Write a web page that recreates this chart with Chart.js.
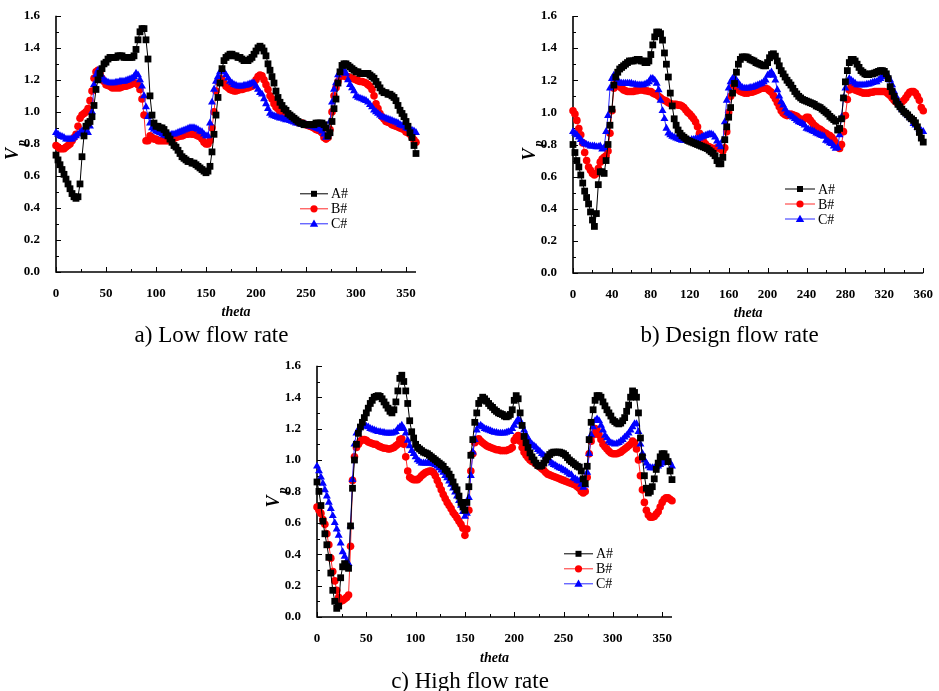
<!DOCTYPE html>
<html>
<head>
<meta charset="utf-8">
<script src="https://cdn.jsdelivr.net/npm/chart.js@4.4.1/dist/chart.umd.min.js"></script>
<style>
  html, body { margin: 0; padding: 0; background: #fff; }
  body { width: 939px; height: 691px; position: relative; overflow: hidden;
         font-family: 'Liberation Serif', 'Times New Roman', serif; }
  canvas { position: absolute; }
  .cap { position: absolute; font-size: 23px; color: #000; white-space: nowrap;
         transform: translate(-50%, -50%); line-height: 1; }
</style>
</head>
<body>
<canvas id="chartLow"></canvas>
<canvas id="chartDesign"></canvas>
<canvas id="chartHigh"></canvas>
<div class="cap" style="left:211.5px; top:334px;">a) Low flow rate</div>
<div class="cap" style="left:729.5px; top:334px;">b) Design flow rate</div>
<div class="cap" style="left:470px; top:680px;">c) High flow rate</div>
<script>
// Impeller angle (degrees), shared by every series
const theta = [
  0,2,4,6,8,10,12,14,16,18,
  20,22,24,26,28,30,32,34,36,38,
  40,42,44,46,48,50,52,54,56,58,
  60,62,64,66,68,70,72,74,76,78,
  80,82,84,86,88,90,92,94,96,98,
  100,102,104,106,108,110,112,114,116,118,
  120,122,124,126,128,130,132,134,136,138,
  140,142,144,146,148,150,152,154,156,158,
  160,162,164,166,168,170,172,174,176,178,
  180,182,184,186,188,190,192,194,196,198,
  200,202,204,206,208,210,212,214,216,218,
  220,222,224,226,228,230,232,234,236,238,
  240,242,244,246,248,250,252,254,256,258,
  260,262,264,266,268,270,272,274,276,278,
  280,282,284,286,288,290,292,294,296,298,
  300,302,304,306,308,310,312,314,316,318,
  320,322,324,326,328,330,332,334,336,338,
  340,342,344,346,348,350,352,354,356,358,
  360
];

const seriesNames = ['A#', 'B#', 'C#'];
const yTicks = [0.0, 0.2, 0.4, 0.6, 0.8, 1.0, 1.2, 1.4, 1.6];

// ---- Low flow rate ----
const lowA = [
  0.73,0.70,0.67,0.64,0.61,0.58,0.55,0.52,0.49,0.47,
  0.46,0.47,0.55,0.72,0.85,0.91,0.93,0.94,0.97,1.04,
  1.14,1.20,1.24,1.27,1.30,1.31,1.33,1.34,1.34,1.34,
  1.34,1.35,1.35,1.35,1.34,1.34,1.34,1.34,1.34,1.35,
  1.39,1.45,1.50,1.52,1.52,1.45,1.33,1.10,0.98,0.93,
  0.91,0.91,0.90,0.90,0.89,0.87,0.85,0.83,0.81,0.79,
  0.78,0.76,0.74,0.72,0.71,0.70,0.69,0.69,0.68,0.68,
  0.67,0.66,0.65,0.64,0.63,0.62,0.63,0.66,0.75,0.86,
  0.98,1.09,1.18,1.27,1.32,1.34,1.35,1.36,1.36,1.35,
  1.35,1.34,1.34,1.33,1.32,1.32,1.32,1.33,1.34,1.36,
  1.38,1.40,1.41,1.40,1.38,1.35,1.30,1.26,1.22,1.18,
  1.13,1.09,1.06,1.04,1.02,1.01,0.99,0.98,0.97,0.96,
  0.95,0.94,0.93,0.93,0.92,0.92,0.92,0.92,0.92,0.92,
  0.93,0.93,0.93,0.93,0.92,0.90,0.85,0.87,0.94,1.02,
  1.08,1.18,1.25,1.29,1.30,1.30,1.29,1.28,1.27,1.26,
  1.25,1.25,1.24,1.24,1.24,1.24,1.24,1.23,1.22,1.21,
  1.19,1.17,1.15,1.13,1.12,1.12,1.11,1.11,1.10,1.09,
  1.07,1.04,1.01,0.99,0.97,0.94,0.91,0.87,0.84,0.79,
  0.74
];
const lowB = [
  0.79,0.78,0.77,0.77,0.77,0.78,0.79,0.80,0.82,0.84,
  0.86,0.91,0.96,0.98,0.99,1.00,1.02,1.07,1.13,1.21,
  1.25,1.26,1.24,1.21,1.19,1.17,1.165,1.16,1.15,1.15,
  1.15,1.15,1.15,1.155,1.16,1.16,1.165,1.17,1.175,1.18,
  1.18,1.17,1.14,1.08,0.98,0.82,0.82,0.85,0.84,0.83,
  0.83,0.82,0.82,0.82,0.82,0.82,0.82,0.83,0.83,0.835,
  0.84,0.845,0.85,0.85,0.855,0.86,0.86,0.865,0.86,0.86,
  0.855,0.85,0.845,0.83,0.81,0.80,0.80,0.82,0.90,1.00,
  1.13,1.19,1.21,1.20,1.18,1.16,1.15,1.14,1.135,1.13,
  1.13,1.135,1.14,1.14,1.145,1.15,1.15,1.155,1.16,1.17,
  1.20,1.22,1.23,1.225,1.20,1.17,1.14,1.10,1.08,1.05,
  1.03,1.02,1.00,0.99,0.98,0.97,0.965,0.96,0.95,0.945,
  0.94,0.935,0.93,0.93,0.925,0.92,0.915,0.91,0.905,0.90,
  0.89,0.885,0.88,0.87,0.84,0.83,0.84,0.89,1.00,1.10,
  1.15,1.19,1.22,1.23,1.225,1.22,1.22,1.215,1.21,1.205,
  1.20,1.195,1.19,1.19,1.185,1.18,1.17,1.16,1.14,1.10,
  1.05,1.02,0.99,0.97,0.955,0.94,0.935,0.93,0.92,0.915,
  0.91,0.905,0.90,0.895,0.89,0.875,0.87,0.86,0.84,0.825,
  0.81
];
const lowC = [
  0.87,0.86,0.85,0.845,0.84,0.83,0.83,0.83,0.83,0.84,
  0.85,0.86,0.87,0.88,0.89,0.87,0.87,0.91,1.00,1.17,
  1.23,1.26,1.24,1.22,1.20,1.19,1.185,1.18,1.18,1.18,
  1.185,1.185,1.19,1.19,1.19,1.195,1.20,1.205,1.21,1.22,
  1.24,1.23,1.20,1.16,1.10,1.03,0.97,0.93,0.90,0.89,
  0.88,0.875,0.87,0.86,0.855,0.85,0.85,0.855,0.86,0.86,
  0.865,0.87,0.875,0.88,0.885,0.89,0.895,0.90,0.90,0.90,
  0.895,0.89,0.88,0.875,0.86,0.85,0.85,0.93,1.06,1.14,
  1.19,1.22,1.25,1.26,1.25,1.23,1.21,1.19,1.18,1.17,
  1.165,1.16,1.16,1.16,1.165,1.165,1.17,1.175,1.18,1.18,
  1.16,1.14,1.12,1.11,1.08,1.05,1.02,0.99,0.98,0.975,
  0.97,0.965,0.96,0.96,0.955,0.95,0.95,0.945,0.94,0.935,
  0.93,0.93,0.925,0.92,0.92,0.92,0.915,0.91,0.91,0.905,
  0.90,0.895,0.89,0.88,0.86,0.84,0.86,0.94,1.06,1.14,
  1.18,1.23,1.25,1.27,1.26,1.24,1.20,1.17,1.15,1.13,
  1.10,1.09,1.085,1.08,1.075,1.07,1.06,1.045,1.03,1.01,
  1.00,0.99,0.98,0.97,0.965,0.96,0.955,0.95,0.945,0.94,
  0.935,0.93,0.92,0.915,0.91,0.90,0.895,0.89,0.885,0.88,
  0.87
];

// ---- Design flow rate ----
const designA = [
  0.80,0.75,0.70,0.66,0.61,0.56,0.51,0.47,0.43,0.38,
  0.33,0.29,0.37,0.55,0.63,0.63,0.62,0.70,0.80,0.92,
  1.02,1.17,1.22,1.25,1.27,1.28,1.29,1.30,1.31,1.32,
  1.32,1.32,1.325,1.33,1.33,1.32,1.32,1.31,1.31,1.32,
  1.36,1.42,1.47,1.50,1.50,1.49,1.45,1.37,1.30,1.22,
  1.12,1.04,0.96,0.92,0.89,0.87,0.855,0.845,0.835,0.825,
  0.82,0.815,0.81,0.805,0.80,0.795,0.79,0.785,0.78,0.775,
  0.765,0.755,0.745,0.73,0.70,0.68,0.68,0.72,0.83,0.91,
  0.97,1.03,1.12,1.18,1.25,1.30,1.33,1.345,1.345,1.345,
  1.34,1.33,1.325,1.32,1.31,1.305,1.30,1.295,1.29,1.29,
  1.31,1.34,1.36,1.365,1.35,1.32,1.29,1.26,1.24,1.22,
  1.20,1.185,1.17,1.15,1.13,1.115,1.10,1.09,1.08,1.075,
  1.07,1.065,1.06,1.055,1.05,1.04,1.035,1.03,1.02,1.01,
  1.00,0.99,0.975,0.965,0.955,0.945,0.89,0.90,0.96,1.09,
  1.19,1.26,1.31,1.33,1.33,1.32,1.30,1.28,1.26,1.25,
  1.24,1.235,1.235,1.24,1.24,1.245,1.25,1.255,1.26,1.26,
  1.255,1.24,1.21,1.16,1.13,1.10,1.07,1.05,1.035,1.02,
  1.005,0.995,0.985,0.97,0.96,0.95,0.935,0.91,0.875,0.84,
  0.815
];
const designB = [
  1.01,0.99,0.95,0.90,0.86,0.81,0.75,0.70,0.66,0.64,
  0.62,0.61,0.62,0.65,0.69,0.71,0.72,0.73,0.76,0.87,
  1.01,1.15,1.18,1.17,1.16,1.15,1.14,1.135,1.13,1.13,
  1.13,1.13,1.135,1.135,1.14,1.14,1.14,1.135,1.135,1.13,
  1.13,1.12,1.115,1.11,1.10,1.09,1.08,1.075,1.07,1.06,
  1.055,1.05,1.05,1.05,1.045,1.045,1.04,1.03,1.015,1.00,
  0.99,0.975,0.96,0.94,0.91,0.87,0.84,0.82,0.805,0.79,
  0.785,0.78,0.775,0.775,0.78,0.785,0.77,0.76,0.78,0.88,
  1.00,1.10,1.17,1.17,1.15,1.14,1.13,1.125,1.12,1.12,
  1.12,1.125,1.125,1.13,1.135,1.14,1.145,1.15,1.15,1.15,
  1.145,1.135,1.125,1.105,1.085,1.06,1.035,1.01,0.995,0.985,
  0.98,0.985,0.99,0.985,0.98,0.975,0.965,0.955,0.95,0.96,
  0.97,0.97,0.95,0.935,0.92,0.91,0.90,0.895,0.885,0.875,
  0.87,0.86,0.855,0.845,0.83,0.81,0.785,0.775,0.80,0.88,
  0.98,1.08,1.14,1.16,1.15,1.14,1.135,1.13,1.125,1.12,
  1.12,1.12,1.12,1.125,1.125,1.13,1.13,1.13,1.13,1.13,
  1.13,1.125,1.115,1.105,1.09,1.075,1.065,1.055,1.055,1.065,
  1.075,1.09,1.11,1.125,1.13,1.13,1.12,1.10,1.075,1.03,
  1.01
];
const designC = [
  0.88,0.87,0.86,0.845,0.83,0.815,0.805,0.80,0.795,0.79,
  0.79,0.79,0.785,0.785,0.79,0.77,0.78,0.88,0.98,1.15,
  1.21,1.23,1.21,1.19,1.185,1.18,1.18,1.18,1.18,1.18,
  1.18,1.175,1.175,1.17,1.17,1.17,1.17,1.175,1.18,1.19,
  1.21,1.21,1.20,1.18,1.14,1.075,1.01,0.96,0.90,0.87,
  0.86,0.85,0.845,0.84,0.835,0.83,0.825,0.825,0.825,0.825,
  0.825,0.83,0.83,0.835,0.835,0.84,0.845,0.85,0.855,0.86,
  0.865,0.865,0.86,0.845,0.82,0.80,0.785,0.825,0.94,1.075,
  1.15,1.19,1.21,1.21,1.20,1.18,1.165,1.155,1.15,1.15,
  1.15,1.155,1.155,1.16,1.165,1.17,1.175,1.18,1.19,1.20,
  1.23,1.24,1.25,1.23,1.20,1.14,1.10,1.065,1.045,1.02,
  1.00,0.99,0.98,0.97,0.96,0.95,0.94,0.935,0.93,0.92,
  0.90,0.895,0.89,0.885,0.88,0.87,0.865,0.86,0.855,0.85,
  0.825,0.82,0.81,0.805,0.79,0.775,0.78,0.86,0.97,1.09,
  1.15,1.19,1.21,1.20,1.19,1.18,1.17,1.17,1.17,1.17,
  1.17,1.175,1.175,1.18,1.185,1.19,1.19,1.20,1.21,1.22,
  1.225,1.23,1.225,1.20,1.17,1.13,1.10,1.07,1.045,1.02,
  1.01,0.995,0.98,0.97,0.955,0.93,0.92,0.905,0.895,0.885,
  0.88
];

// ---- High flow rate ----
const highA = [
  0.86,0.80,0.71,0.61,0.53,0.46,0.38,0.28,0.17,0.10,
  0.055,0.07,0.25,0.32,0.34,0.32,0.31,0.58,0.82,1.00,
  1.10,1.17,1.21,1.24,1.27,1.30,1.33,1.36,1.38,1.40,
  1.405,1.41,1.405,1.39,1.37,1.35,1.33,1.31,1.30,1.32,
  1.37,1.44,1.52,1.54,1.50,1.44,1.36,1.25,1.18,1.14,
  1.10,1.08,1.07,1.06,1.05,1.045,1.04,1.03,1.02,1.01,
  1.00,0.99,0.98,0.97,0.96,0.94,0.93,0.91,0.89,0.86,
  0.83,0.81,0.77,0.73,0.70,0.68,0.73,0.83,1.03,1.13,
  1.24,1.30,1.36,1.38,1.40,1.39,1.375,1.36,1.345,1.335,
  1.32,1.31,1.30,1.295,1.29,1.28,1.275,1.28,1.29,1.32,
  1.38,1.41,1.39,1.30,1.22,1.15,1.11,1.08,1.045,1.02,
  1.00,0.98,0.965,0.96,0.965,0.98,1.00,1.02,1.035,1.045,
  1.05,1.05,1.05,1.05,1.045,1.04,1.03,1.015,1.00,0.99,
  0.98,0.97,0.96,0.955,0.93,0.88,0.85,0.96,1.13,1.24,
  1.32,1.38,1.41,1.41,1.40,1.37,1.345,1.32,1.30,1.28,
  1.255,1.245,1.235,1.23,1.235,1.25,1.27,1.31,1.35,1.40,
  1.44,1.43,1.40,1.30,1.14,1.02,0.90,0.82,0.79,0.80,
  0.83,0.88,0.94,0.98,1.02,1.04,1.04,1.02,0.99,0.93,
  0.875
];
const highB = [
  0.70,0.68,0.66,0.62,0.59,0.53,0.46,0.375,0.29,0.23,
  0.17,0.125,0.10,0.105,0.115,0.125,0.14,0.45,0.87,1.02,
  1.08,1.10,1.12,1.13,1.13,1.125,1.115,1.11,1.105,1.10,
  1.10,1.09,1.085,1.08,1.075,1.075,1.07,1.07,1.075,1.08,
  1.09,1.10,1.13,1.135,1.10,1.02,0.93,0.89,0.88,0.875,
  0.875,0.875,0.885,0.90,0.91,0.92,0.925,0.93,0.93,0.92,
  0.90,0.87,0.84,0.81,0.78,0.755,0.73,0.71,0.69,0.665,
  0.65,0.63,0.61,0.59,0.565,0.52,0.56,0.68,0.93,1.04,
  1.11,1.13,1.135,1.12,1.11,1.10,1.09,1.085,1.08,1.075,
  1.07,1.065,1.065,1.06,1.06,1.06,1.06,1.065,1.07,1.08,
  1.125,1.145,1.156,1.12,1.08,1.05,1.03,1.015,1.00,0.99,
  0.985,0.975,0.965,0.955,0.945,0.935,0.92,0.91,0.905,0.90,
  0.895,0.89,0.885,0.88,0.875,0.87,0.865,0.86,0.855,0.85,
  0.845,0.84,0.83,0.82,0.80,0.79,0.80,0.89,1.04,1.12,
  1.16,1.20,1.19,1.16,1.13,1.10,1.085,1.07,1.055,1.045,
  1.04,1.04,1.04,1.045,1.05,1.06,1.07,1.08,1.09,1.10,
  1.12,1.11,1.07,1.00,0.90,0.81,0.73,0.68,0.65,0.635,
  0.635,0.64,0.655,0.67,0.70,0.73,0.75,0.76,0.76,0.75,
  0.74
];
const highC = [
  0.96,0.93,0.89,0.85,0.81,0.77,0.73,0.69,0.645,0.60,
  0.56,0.52,0.47,0.415,0.385,0.355,0.34,0.58,0.875,1.10,
  1.17,1.195,1.21,1.215,1.22,1.215,1.21,1.20,1.195,1.19,
  1.185,1.18,1.18,1.175,1.175,1.17,1.17,1.17,1.17,1.175,
  1.18,1.20,1.21,1.22,1.20,1.17,1.125,1.09,1.06,1.04,
  1.02,1.00,0.99,0.98,0.98,0.98,0.98,0.98,0.98,0.975,
  0.97,0.96,0.95,0.935,0.92,0.90,0.885,0.865,0.845,0.82,
  0.795,0.77,0.74,0.71,0.67,0.64,0.66,0.76,0.90,1.05,
  1.13,1.19,1.215,1.22,1.21,1.20,1.195,1.19,1.185,1.18,
  1.175,1.175,1.17,1.17,1.17,1.17,1.175,1.18,1.18,1.20,
  1.22,1.24,1.26,1.25,1.22,1.19,1.16,1.135,1.115,1.10,
  1.09,1.08,1.065,1.055,1.04,1.03,1.02,1.005,0.995,0.98,
  0.97,0.965,0.955,0.95,0.945,0.935,0.93,0.92,0.91,0.905,
  0.885,0.88,0.87,0.865,0.845,0.825,0.84,0.92,1.04,1.16,
  1.21,1.25,1.26,1.25,1.22,1.19,1.156,1.14,1.12,1.11,
  1.105,1.10,1.105,1.11,1.12,1.13,1.145,1.156,1.17,1.19,
  1.21,1.23,1.23,1.18,1.10,1.04,1.00,0.98,0.96,0.95,
  0.95,0.95,0.955,0.96,0.97,0.98,0.985,0.99,0.99,0.985,
  0.96
];

// Marker / line styling for A#, B#, C#
const styles = [
  { color: '#000000', line: '#000000', point: 'rect',     radius: 4.8, order: 0 },
  { color: '#ff0000', line: '#ff2a2a', point: 'circle',   radius: 3.8, order: 2 },
  { color: '#0000ff', line: '#2a2aff', point: 'triangle', radius: 4.6, order: 1 }
];

const serif = "'Liberation Serif', 'Times New Roman', serif";

// Axis lines, inward tick marks, axis titles and legend
const decor = {
  id: 'decor',
  beforeDatasetsDraw(chart, args, o) {
    const { ctx, chartArea: a, scales: { x, y } } = chart;
    ctx.save();
    ctx.strokeStyle = '#000';
    ctx.lineWidth = 1;
    ctx.beginPath();
    for (let i = 0; i * o.xMinor <= o.xMax + 1e-9; i++) {
      const v = i * o.xMinor;
      const px = Math.round(x.getPixelForValue(v)) + 0.5;
      const len = (i % 2 === 0) ? 5 : 3;
      ctx.moveTo(px, a.bottom);
      ctx.lineTo(px, a.bottom - len);
    }
    for (let i = 0; i <= 16; i++) {
      const py = Math.round(y.getPixelForValue(i * 0.1)) + 0.5;
      const len = (i % 2 === 0) ? 5 : 3;
      ctx.moveTo(a.left, py);
      ctx.lineTo(a.left + len, py);
    }
    ctx.stroke();
    ctx.lineWidth = 1.6;
    ctx.beginPath();
    ctx.moveTo(a.left, a.top);
    ctx.lineTo(a.left, a.bottom);
    ctx.lineTo(a.right, a.bottom);
    ctx.stroke();

    // x title
    ctx.fillStyle = '#000';
    ctx.font = 'italic bold 14px ' + serif;
    ctx.textAlign = 'center';
    ctx.textBaseline = 'middle';
    ctx.fillText('theta', (a.left + a.right) / 2, a.bottom + o.titleGap);

    // y title V with subscript p
    ctx.save();
    ctx.translate(a.left - 43, (a.top + a.bottom) / 2 + 10);
    ctx.rotate(-Math.PI / 2);
    ctx.font = 'italic bold 18px ' + serif;
    ctx.fillText('V', 0, 0);
    ctx.font = 'italic bold 12px ' + serif;
    ctx.fillText('p', 11, 9);
    ctx.restore();
    ctx.restore();
  },
  afterDraw(chart, args, o) {
    const { ctx, chartArea: a } = chart;
    ctx.save();
    const x0 = a.left + o.legX, y0 = a.top + o.legY;
    styles.forEach((s, i) => {
      const yy = y0 + i * 15;
      ctx.strokeStyle = s.line;
      ctx.lineWidth = 1;
      ctx.beginPath();
      ctx.moveTo(x0, yy);
      ctx.lineTo(x0 + o.legLen, yy);
      ctx.stroke();
      const cx = x0 + o.legLen / 2;
      ctx.fillStyle = s.color;
      ctx.beginPath();
      if (s.point === 'rect') {
        ctx.rect(cx - 3, yy - 3, 6, 6);
      } else if (s.point === 'circle') {
        ctx.arc(cx, yy, 3.6, 0, Math.PI * 2);
      } else {
        ctx.moveTo(cx, yy - 4.2);
        ctx.lineTo(cx + 4.2, yy + 3);
        ctx.lineTo(cx - 4.2, yy + 3);
        ctx.closePath();
      }
      ctx.fill();
      ctx.fillStyle = '#000';
      ctx.font = '14px ' + serif;
      ctx.textAlign = 'left';
      ctx.textBaseline = 'middle';
      ctx.fillText(seriesNames[i], x0 + o.legLen + 3, yy + 1);
    });
    ctx.restore();
  }
};

function makeChart(id, box, series, ax) {
  const cv = document.getElementById(id);
  cv.width = box.w; cv.height = box.h;
  cv.style.left = box.left + 'px';
  cv.style.top = box.top + 'px';
  cv.style.width = box.w + 'px';
  cv.style.height = box.h + 'px';

  const datasets = series.map((vals, i) => ({
    label: seriesNames[i],
    data: theta.map((t, k) => ({ x: t, y: vals[k] })),
    borderColor: styles[i].line,
    borderWidth: 1,
    backgroundColor: styles[i].color,
    pointStyle: styles[i].point,
    pointRadius: styles[i].radius,
    pointBackgroundColor: styles[i].color,
    pointBorderColor: styles[i].color,
    pointBorderWidth: 0,
    tension: 0,
    order: styles[i].order,
    clip: false
  }));

  new Chart(cv, {
    type: 'line',
    data: { datasets },
    plugins: [decor],
    options: {
      responsive: false,
      animation: false,
      events: [],
      layout: { padding: { top: box.padTop, right: box.padRight, left: 0, bottom: 0 } },
      plugins: {
        legend: { display: false },
        tooltip: { enabled: false },
        decor: ax
      },
      scales: {
        x: {
          type: 'linear',
          min: 0, max: ax.xMax,
          grid: { display: false },
          border: { display: false },
          afterFit: s => { s.height = box.xH; },
          ticks: {
            stepSize: ax.xStep,
            includeBounds: false,
            autoSkip: false,
            maxRotation: 0,
            padding: 6,
            color: '#000',
            font: { family: serif, size: 13, weight: 'bold' }
          }
        },
        y: {
          type: 'linear',
          min: 0, max: 1.6,
          grid: { display: false },
          border: { display: false },
          afterFit: s => { s.width = 56; },
          afterBuildTicks: s => { s.ticks = yTicks.map(v => ({ value: v })); },
          ticks: {
            padding: 8,
            color: '#000',
            font: { family: serif, size: 13, weight: 'bold' },
            callback: v => Number(v).toFixed(1)
          }
        }
      }
    }
  });
}

makeChart('chartLow',
  { left: 0, top: 0, w: 440, h: 325, padTop: 13, padRight: 24, xH: 53 },
  [lowA, lowB, lowC],
  { xMax: 360, xStep: 50, xMinor: 25, titleGap: 40, legX: 244, legY: 178, legLen: 28 });

makeChart('chartDesign',
  { left: 517, top: 0, w: 422, h: 325, padTop: 16, padRight: 12, xH: 52 },
  [designA, designB, designC],
  { xMax: 360, xStep: 40, xMinor: 20, titleGap: 40, legX: 212, legY: 173, legLen: 30 });

makeChart('chartHigh',
  { left: 261, top: 350, w: 425, h: 341, padTop: 11, padRight: 14, xH: 74 },
  [highA, highB, highC],
  { xMax: 360, xStep: 50, xMinor: 25, titleGap: 41, legX: 247, legY: 188, legLen: 29 });
</script>
</body>
</html>
